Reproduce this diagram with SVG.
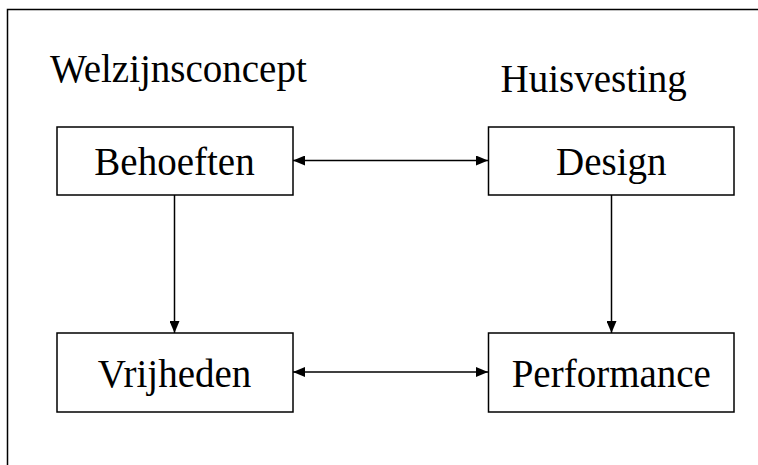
<svg xmlns="http://www.w3.org/2000/svg" width="758" height="465" viewBox="0 0 758 465">
<style>
.box{fill:#fff;stroke:#000;stroke-width:1.5}
.t{font-family:"Liberation Serif","Times New Roman",serif;font-size:39px;fill:#000;text-anchor:middle}
.h{font-family:"Liberation Serif","Times New Roman",serif;font-size:39px;fill:#000}
.c{stroke:#000;stroke-width:1.5;fill:none}
</style>
<defs>
<marker id="ah" viewBox="0 0 12 10" refX="12" refY="5" markerWidth="12" markerHeight="10" markerUnits="userSpaceOnUse" orient="auto-start-reverse">
<path d="M0,0 L12,5 L0,10 Z" fill="#000"/>
</marker>
</defs>
<rect width="758" height="465" fill="#fff"/>
<path d="M7.5,465 L7.5,9.5 L758,9.5" fill="none" stroke="#000" stroke-width="1.5"/>
<text class="h" x="50" y="82">Welzijnsconcept</text>
<text class="h" x="500.5" y="92">Huisvesting</text>
<g id="connectors">
<line class="c" x1="293" y1="160.5" x2="488" y2="160.5" marker-start="url(#ah)" marker-end="url(#ah)"/>
<line class="c" x1="293" y1="372" x2="488" y2="372" marker-start="url(#ah)" marker-end="url(#ah)"/>
<line class="c" x1="174.5" y1="195" x2="174.5" y2="333" marker-end="url(#ah)"/>
<line class="c" x1="611.5" y1="195" x2="611.5" y2="333" marker-end="url(#ah)"/>
</g>
<g id="behoeften">
<rect class="box" x="57" y="127" width="236" height="68"/>
<text class="t" x="174.5" y="175">Behoeften</text>
</g>
<g id="design">
<rect class="box" x="488.5" y="127" width="245.5" height="68"/>
<text class="t" x="611.3" y="175">Design</text>
</g>
<g id="vrijheden">
<rect class="box" x="57" y="333" width="236" height="79"/>
<text class="t" x="174.5" y="387">Vrijheden</text>
</g>
<g id="performance">
<rect class="box" x="488.5" y="333" width="245.5" height="79"/>
<text class="t" x="611.3" y="387">Performance</text>
</g>
</svg>
